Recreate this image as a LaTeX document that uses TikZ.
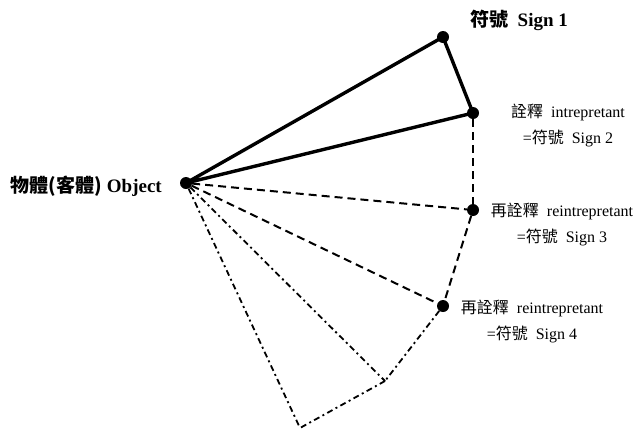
\documentclass[tikz,border=0pt]{standalone}
\usepackage{fontspec}
\setmainfont{Liberation Serif}
\newfontfamily\cjk{Noto Sans CJK TC}
\usetikzlibrary{positioning}

\begin{document}
\begin{tikzpicture}[
            x=1pt, y=-1pt,
            dot/.style={circle, fill=black, inner sep=0pt, minimum size=12pt},
            solidline/.style={line width=3.4pt, line join=round},
            dashline/.style={line width=2pt, dash pattern=on 8pt off 5pt},
            dotline/.style={line width=1.8pt, dash pattern=on 6pt off 3.5pt on 2pt off 3.5pt},
            lbl/.style={font=\fontsize{16}{26}\selectfont, align=center, inner sep=0pt},
            title/.style={font=\fontsize{19}{20}\selectfont\bfseries, inner sep=0pt}
        ]
            \useasboundingbox (0,0) rectangle (636,432);
            \node[dot] (obj) at (186,183) {};
            \node[dot] (sign1) at (443,37) {};
            \node[dot] (sign2) at (473,113) {};
            \node[dot] (sign3) at (473,210) {};
            \node[dot] (sign4) at (443,306) {};
            \coordinate (p5) at (385,381);
            \coordinate (p6) at (300,428);

            \node[title, anchor=east] (objlbl) at (162,186) {{\cjk 物體(客體)} Object};
            \node[title, anchor=west] (lbl1) at (470,20) {{\cjk 符號} \ Sign 1};
            \node[lbl] (lbl2) at (568,125) {{\cjk 詮釋} \ intrepretant\\={\cjk 符號} \ Sign 2};
            \node[lbl] (lbl3) at (562,224) {{\cjk 再詮釋} \ reintrepretant\\={\cjk 符號} \ Sign 3};
            \node[lbl] (lbl4) at (532,321) {{\cjk 再詮釋} \ reintrepretant\\={\cjk 符號} \ Sign 4};

            \draw[solidline] (obj.center) -- (sign1.center) -- (sign2.center) -- cycle;
            \draw[dashline] (sign2) -- (sign3);
            \draw[dashline] (obj) -- (sign3);
            \draw[dashline] (sign3) -- (sign4);
            \draw[dashline] (obj) -- (sign4);
            \draw[dotline] (sign4) -- (p5);
            \draw[dotline] (obj) -- (p5);
            \draw[dotline] (p5) -- (p6);
            \draw[dotline] (obj) -- (p6);
        \end{tikzpicture}
\end{document}
